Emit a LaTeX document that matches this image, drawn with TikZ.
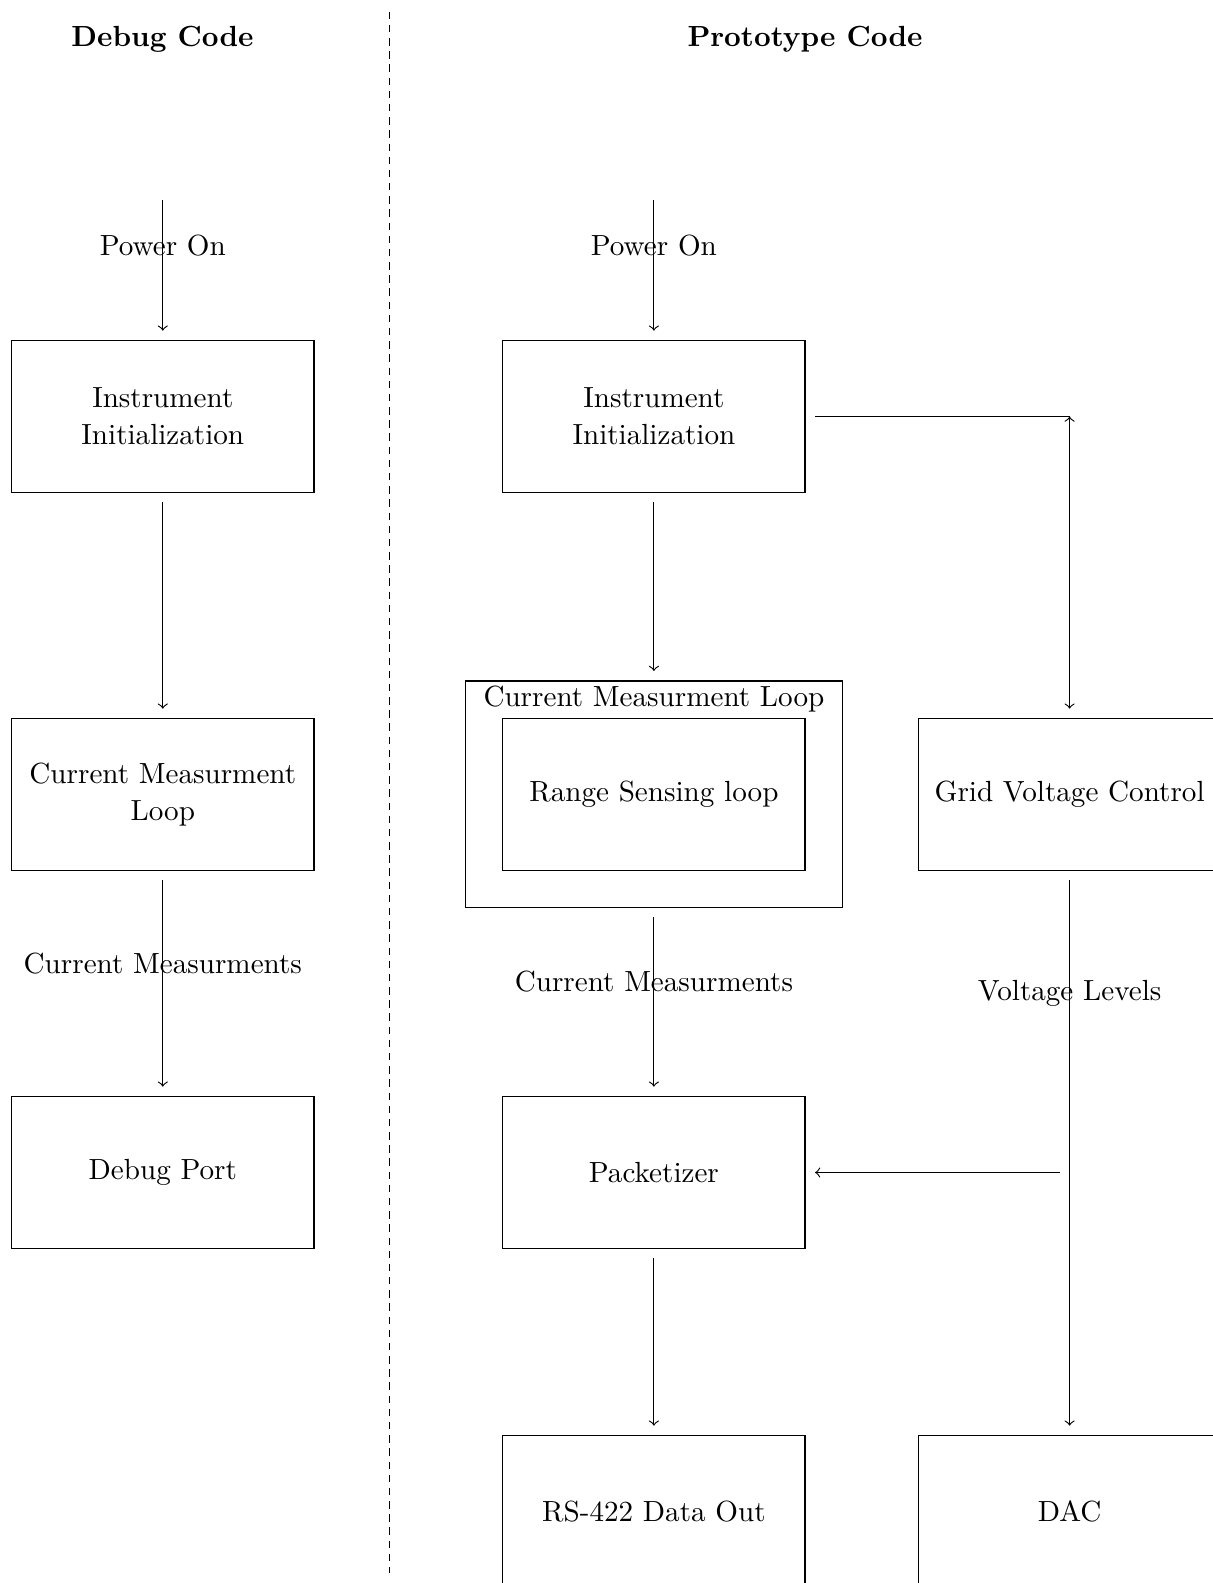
\documentclass[tikz,border=0pt]{standalone}
\newcommand\diagfont{\fontsize{10.17}{13}\selectfont}
\begin{document}
\begin{tikzpicture}[x=0.349pt,y=-0.349pt,font=\diagfont,
  block/.style={draw,rectangle,minimum width=105.5pt,minimum height=52.9pt,
    inner sep=0pt,outer sep=0pt,align=center},
  frame/.style={draw,rectangle,minimum width=131.8pt,minimum height=79pt,inner sep=0pt,outer sep=0pt},
  flow/.style={->,shorten <=3.5pt,shorten >=3.5pt},
  lbl/.style={anchor=base,inner sep=0pt},
  heading/.style={anchor=base,inner sep=0pt,font=\diagfont\bfseries}]
\useasboundingbox (0,0) rectangle (1212,1583);

% divider between the two code variants
\draw[dash pattern=on 2.6pt off 2pt] (389.7,11.7) -- (389.7,1573);

% headings
\node[heading] (hdbg) at (162.5,46.5) {Debug Code};
\node[heading] (hproto) at (805,46.5) {Prototype Code};

% ---- debug code column ----
\coordinate (pwrL) at (162.8,200);
\node[block] (initL) at (162.8,416.5) {Instrument\\Initialization};
\node[block] (cmL) at (162.8,794.5) {Current Measurment\\Loop};
\node[block] (dbg) at (162.8,1172.5) {Debug Port};

\draw[->,shorten >=3.5pt] (pwrL) -- (initL.north);
\node[lbl] (pwrLtxt) at (162.8,255.5) {Power On};
\draw[flow] (initL) -- (cmL);
\draw[flow] (cmL) -- (dbg);
\node[lbl] (cmLtxt) at (162.8,973.3) {Current Measurments};

% ---- prototype code column ----
\coordinate (pwrR) at (653.9,200);
\node[block] (initR) at (653.9,416.5) {Instrument\\Initialization};
\node[frame] (cmloop) at (653.9,794.2) {};
\node[lbl] (cmlooptxt) at (653.9,706) {Current Measurment Loop};
\node[block] (range) at (653.9,794.5) {Range Sensing loop};
\node[block] (pack) at (653.9,1172.5) {Packetizer};
\node[block] (rs) at (653.9,1511.5) {RS-422 Data Out};

\draw[->,shorten >=3.5pt] (pwrR) -- (initR.north);
\node[lbl] (pwrRtxt) at (653.9,255.5) {Power On};
\draw[flow] (initR) -- (cmloop);
\draw[flow] (cmloop) -- (pack);
\node[lbl] (cmRtxt) at (653.9,991.8) {Current Measurments};
\draw[flow] (pack) -- (rs);

% ---- grid voltage branch ----
\node[block] (grid) at (1069.6,794.5) {Grid Voltage Control};
\node[block] (dac) at (1069.6,1511.5) {DAC};
\coordinate (corner) at (1069.6,416.5);
\coordinate (vsplit) at (1069.6,1172.5);

\draw[shorten <=3.5pt] (initR.east) -- (corner);
\draw[<->,shorten >=3.5pt] (corner) -- (grid.north);
\draw[flow] (grid) -- (dac);
\node[lbl] (vtxt) at (1069.6,1000.7) {Voltage Levels};
\draw[flow] (vsplit) -- (pack.east);
\end{tikzpicture}
\end{document}
